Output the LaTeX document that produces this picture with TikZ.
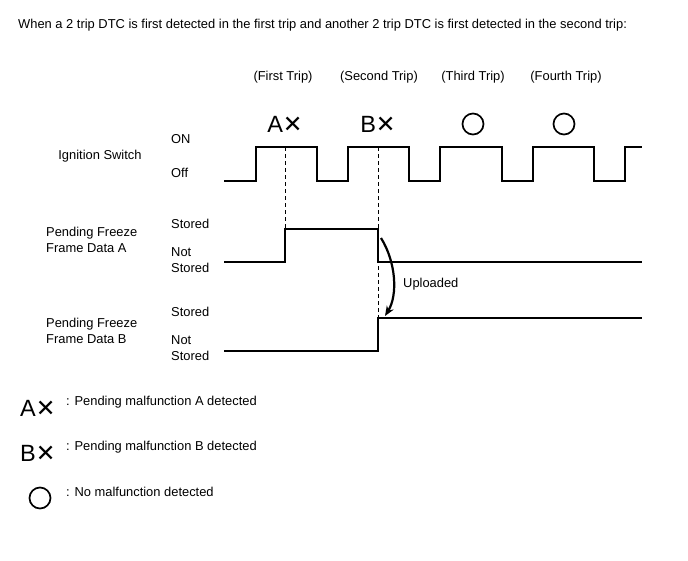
\documentclass[tikz,border=0pt]{standalone}
\usepackage{fontspec}
\setmainfont{Liberation Sans}
\newfontfamily\symfont{DejaVu Sans}
\usetikzlibrary{arrows.meta}

\begin{document}
\begin{tikzpicture}[x=1pt,y=-1pt]
\tikzstyle{every node}+=[inner sep=0pt, font=\fontsize{12.9}{15.5}\selectfont]
\tikzset{
  mark sym/.style={font=\fontsize{23.5}{24}\selectfont},
  trip circle/.style={draw, circle, line width=1.7pt, minimum size=21pt},
  wave/.style={black, line width=1.2pt},
  lbl/.style={anchor=west, align=left}
}
\useasboundingbox (0,0) rectangle (688,560);
\node [anchor=west] (title) at (18,25) {When a 2 trip DTC is first detected in the first trip and another 2 trip DTC is first detected in the second trip:};
% trip headers
\node (trip1) at (283,77) {(First Trip)};
\node (trip2) at (379,77) {(Second Trip)};
\node (trip3) at (473,77) {(Third Trip)};
\node (trip4) at (566,77) {(Fourth Trip)};
\node [mark sym] (ax) at (285,124) {A\symfont ✕};
\node [mark sym] (bx) at (378,124) {B\symfont ✕};
\node [trip circle] (o3) at (473,124) {};
\node [trip circle] (o4) at (564,124) {};
% row labels
\node (ign) at (100,156) {Ignition Switch};
\node [lbl] (on) at (171,139) {ON};
\node [lbl] (off) at (171,173) {Off};
\node [lbl] (pfa) at (46,240) {Pending Freeze\\Frame Data A};
\node [lbl] (sta) at (171,224) {Stored};
\node [lbl] (nsa) at (171,260) {Not\\Stored};
\node [lbl] (pfb) at (46,331) {Pending Freeze\\Frame Data B};
\node [lbl] (stb) at (171,312) {Stored};
\node [lbl] (nsb) at (171,348) {Not\\Stored};
% ignition switch
\draw [wave] (224,181) -- (256,181) -- (256,147) -- (317,147) -- (317,181) -- (348,181) -- (348,147) -- (409,147) -- (409,181) -- (440,181) -- (440,147) -- (502,147) -- (502,181) -- (533,181) -- (533,147) -- (594,147) -- (594,181) -- (625,181) -- (625,147) -- (642,147);
% data A
\draw [wave] (224,262) -- (285,262) -- (285,229) -- (378,229) -- (378,262) -- (642,262);
% data B
\draw [wave] (224,351) -- (378,351) -- (378,318) -- (642,318);
\coordinate (da) at (285,147);
\coordinate (da') at (285,229);
\coordinate (db) at (378,147);
\coordinate (db') at (378,318);
\draw [black, line width=1pt, dash pattern=on 4pt off 3pt] (da) -- (da');
\draw [black, line width=1pt, dash pattern=on 4pt off 3pt] (db) -- (db');
\coordinate (up1) at (381,238);
\coordinate (up2) at (385,316);
\draw [black, line width=2.2pt, -{Stealth[length=10pt,width=8pt]}] (up1) .. controls (396,262) and (398,295) .. (up2);
\node [anchor=west] (upl) at (403,284) {Uploaded};
% legend
\node [mark sym, anchor=west] (lax) at (20,408) {A\symfont ✕};
\node [anchor=west] (tax) at (66,402) {: Pending malfunction A detected};
\node [mark sym, anchor=west] (lbx) at (20,453) {B\symfont ✕};
\node [anchor=west] (tbx) at (66,447) {: Pending malfunction B detected};
\node [trip circle] (lo) at (40,498) {};
\node [anchor=west] (to) at (66,492) {: No malfunction detected};
\end{tikzpicture}
\end{document}
